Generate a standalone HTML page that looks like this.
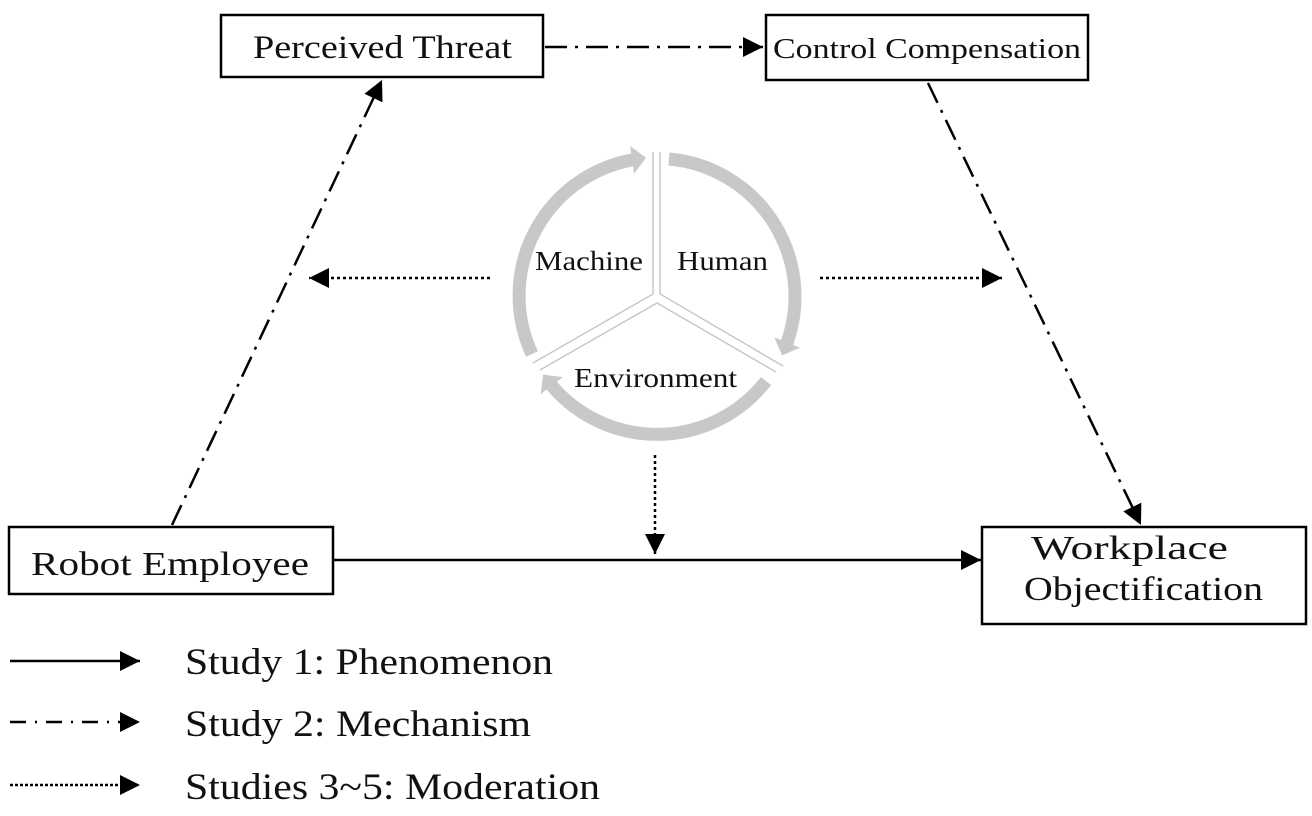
<!DOCTYPE html>
<html><head><meta charset="utf-8"><style>
html,body{margin:0;padding:0;background:#fff;}
svg{display:block;}
text{font-family:"Liberation Serif",serif;fill:#111;}
</style></head><body>
<svg width="1312" height="816" viewBox="0 0 1312 816" xmlns="http://www.w3.org/2000/svg">
<defs>
<marker id="a" markerUnits="userSpaceOnUse" markerWidth="22" markerHeight="22" refX="20" refY="10" orient="auto"><path d="M0,0 L20,10 L0,20 Z" fill="#000"/></marker>
<marker id="g" markerUnits="userSpaceOnUse" markerWidth="30" markerHeight="30" refX="6" refY="14" orient="auto"><path d="M0,0 L14,14 L0,28 Z" fill="#c8c8c8"/></marker>
</defs>
<rect x="221" y="15" width="322" height="62" fill="#fff" stroke="#000" stroke-width="2.5"/>
<text x="253" y="58" font-size="33" textLength="259" lengthAdjust="spacingAndGlyphs">Perceived Threat</text>
<rect x="766" y="15" width="322" height="65" fill="#fff" stroke="#000" stroke-width="2.5"/>
<text x="773" y="58" font-size="28" textLength="308" lengthAdjust="spacingAndGlyphs">Control Compensation</text>
<rect x="9" y="527" width="324" height="67" fill="#fff" stroke="#000" stroke-width="2.5"/>
<text x="31" y="575" font-size="34" textLength="278" lengthAdjust="spacingAndGlyphs">Robot Employee</text>
<rect x="982" y="527" width="324" height="97" fill="#fff" stroke="#000" stroke-width="2.5"/>
<text x="1031" y="559" font-size="34" textLength="197" lengthAdjust="spacingAndGlyphs">Workplace</text>
<text x="1024" y="600" font-size="34" textLength="239" lengthAdjust="spacingAndGlyphs">Objectification</text>
<g stroke="#000" stroke-width="2.5" fill="none">
<line x1="545" y1="47" x2="763" y2="47" stroke-dasharray="22,8,3,8" marker-end="url(#a)"/>
<line x1="172" y1="525" x2="382" y2="80" stroke-dasharray="22,8,3,8" marker-end="url(#a)"/>
<line x1="928" y1="83" x2="1141" y2="525" stroke-dasharray="22,8,3,8" marker-end="url(#a)"/>
<line x1="333" y1="560" x2="981" y2="560" marker-end="url(#a)"/>
<line x1="655" y1="455" x2="655" y2="554" stroke-dasharray="3,3" marker-end="url(#a)"/>
<line x1="490" y1="278" x2="309" y2="278" stroke-dasharray="3,3" marker-end="url(#a)"/>
<line x1="820" y1="278" x2="1002" y2="278" stroke-dasharray="3,3" marker-end="url(#a)"/>
<line x1="10" y1="661" x2="140" y2="661" marker-end="url(#a)"/>
<line x1="10" y1="722" x2="140" y2="722" stroke-dasharray="16,9,2,9" marker-end="url(#a)"/>
<line x1="10" y1="785" x2="140" y2="785" stroke-dasharray="3,2" marker-end="url(#a)"/>
</g>
<text x="185" y="674" font-size="37" textLength="368" lengthAdjust="spacingAndGlyphs">Study 1: Phenomenon</text>
<text x="185" y="736" font-size="37" textLength="346" lengthAdjust="spacingAndGlyphs">Study 2: Mechanism</text>
<text x="185" y="799" font-size="37" textLength="415" lengthAdjust="spacingAndGlyphs">Studies 3~5: Moderation</text>
<g stroke="#c8c8c8" stroke-width="13" fill="none">
<path d="M532,354 A138,138 0 0 1 638,159" marker-end="url(#g)"/>
<path d="M669,159 A138,138 0 0 1 785,348" marker-end="url(#g)"/>
<path d="M766,381 A138,138 0 0 1 548,381" marker-end="url(#g)"/>
</g>
<g stroke="#c8c8c8" stroke-width="1.5" fill="none">
<path d="M653,152 L653,294 L533,363"/>
<path d="M660,152 L660,294 L783,366"/>
<path d="M540,370 L657,303 L776,372"/>
</g>
<text x="535" y="270" font-size="27" textLength="108" lengthAdjust="spacingAndGlyphs">Machine</text>
<text x="677" y="270" font-size="27" textLength="91" lengthAdjust="spacingAndGlyphs">Human</text>
<text x="574" y="387" font-size="27" textLength="163" lengthAdjust="spacingAndGlyphs">Environment</text>
</svg>
</body></html>
